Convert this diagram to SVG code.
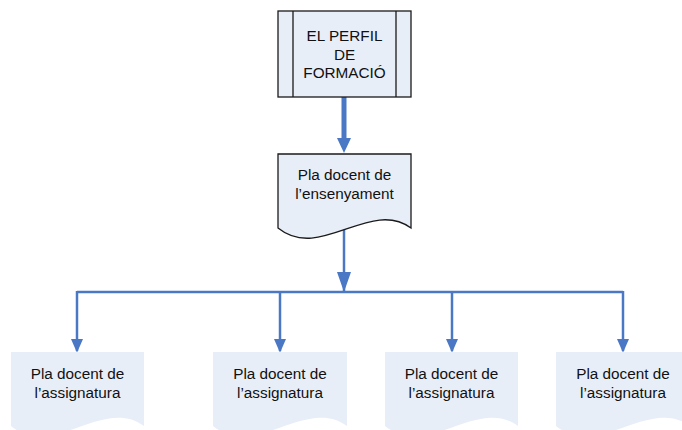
<svg xmlns="http://www.w3.org/2000/svg" width="682" height="430" viewBox="0 0 682 430">
<defs>
<style>
.box{fill:#e8eef8;stroke:#1a1a1a;stroke-width:1.3}
.doc{fill:#e8eef8;stroke:#1a1a1a;stroke-width:1.3}
.docnb{fill:#e8eef8;stroke:none}
.t{font-family:"Liberation Sans",Arial,sans-serif;font-size:15.3px;fill:#111;text-anchor:middle}
.c{fill:none;stroke:#4a78c4;stroke-width:2.5}
.ct{fill:none;stroke:#4a78c4;stroke-width:5}
</style>
<marker id="ah" markerUnits="userSpaceOnUse" markerWidth="14" markerHeight="16" refX="14" refY="7" orient="auto" viewBox="0 0 16 14">
<path d="M0,0 L16,7 L0,14 Z" fill="#4a78c4"/>
</marker>
<marker id="ah2" markerUnits="userSpaceOnUse" markerWidth="20" markerHeight="14" refX="20" refY="7" orient="auto" viewBox="0 0 20 14">
<path d="M0,0 L20,7 L0,14 Z" fill="#4a78c4"/>
</marker>
</defs>
<g id="connectors">
<line class="ct" x1="344" y1="97" x2="344" y2="140"/>
<path d="M337,138 L351,138 L344,153 Z" fill="#4a78c4"/>
<line class="c" x1="344" y1="228" x2="344" y2="292" marker-end="url(#ah2)"/>
<path class="c" d="M77,292 H623"/>
<line class="c" x1="77" y1="291" x2="77" y2="351" marker-end="url(#ah)"/>
<line class="c" x1="280" y1="292" x2="280" y2="351" marker-end="url(#ah)"/>
<line class="c" x1="452" y1="292" x2="452" y2="351" marker-end="url(#ah)"/>
<line class="c" x1="623" y1="291" x2="623" y2="351" marker-end="url(#ah)"/>
</g>
<g id="perfil">
<rect class="box" x="278" y="11" width="133" height="86"/>
<line x1="293" y1="11" x2="293" y2="97" stroke="#1a1a1a" stroke-width="1.3"/>
<line x1="396" y1="11" x2="396" y2="97" stroke="#1a1a1a" stroke-width="1.3"/>
<text class="t" x="344.5" y="41">EL PERFIL</text>
<text class="t" x="344.5" y="59.5">DE</text>
<text class="t" x="344.5" y="78">FORMACIÓ</text>
</g>
<g id="ensenyament">
<path class="doc" d="M278,154 H411 V228 C370,198 320,262 278,228 Z"/>
<text class="t" x="344.5" y="180">Pla docent de</text>
<text class="t" x="344.5" y="198.5">l’ensenyament</text>
</g>
<g id="assignatura1">
<path class="docnb" d="M11,352 H144 V426 C103,396 53,460 11,426 Z"/>
<text class="t" x="77.5" y="379">Pla docent de</text>
<text class="t" x="77.5" y="397.5">l’assignatura</text>
</g>
<g id="assignatura2">
<path class="docnb" d="M213,352 H347 V426 C306,396 255,460 213,426 Z"/>
<text class="t" x="280" y="379">Pla docent de</text>
<text class="t" x="280" y="397.5">l’assignatura</text>
</g>
<g id="assignatura3">
<path class="docnb" d="M385,352 H518 V426 C477,396 427,460 385,426 Z"/>
<text class="t" x="451.5" y="379">Pla docent de</text>
<text class="t" x="451.5" y="397.5">l’assignatura</text>
</g>
<g id="assignatura4">
<path class="docnb" d="M556,352 H690 V426 C649,396 598,460 556,426 Z"/>
<text class="t" x="623" y="379">Pla docent de</text>
<text class="t" x="623" y="397.5">l’assignatura</text>
</g>
</svg>
